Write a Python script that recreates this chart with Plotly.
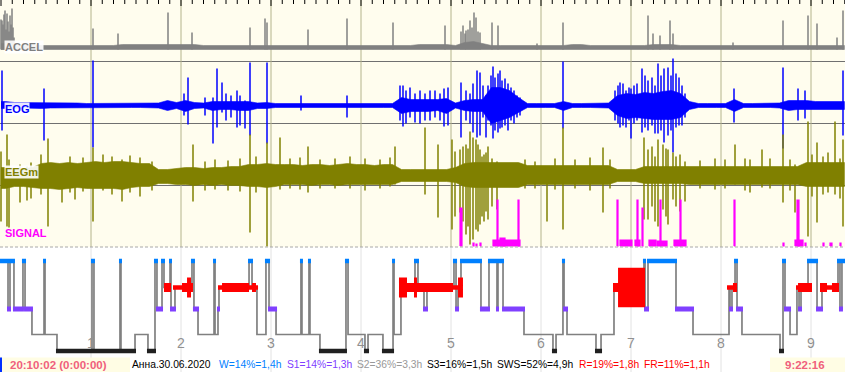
import plotly.graph_objects as go

# ------------------------------------------------------------------ data
DURATION_H = 9.371          # 9:22:16
BIN_S = 360                 # envelope bin width in seconds (0.1 h)

# EOG dense-core envelope (amplitude above / below baseline), 0.1 h bins
eog_up = [4,3,3,3,3,2.5,2.5,2.5,2.5,2, 2,2,2,2,2,2,2,2.5,5,3, 5,3,2.5,4,4,4,4,4,2.5,3,
          2,2,2,2.5,2,2,2,2,2.5,2, 2,2,2,2,8,6,6,6,6,7, 2.5,5,6,6,18,18,15,8,2,2,
          2,2,4,2,2,2,2,2.5,10,12, 11,13,12,14,15,12,4,2,2,2, 2,6,2,2,2,2,2.5,5,5,5,
          4,4,4,4]
eog_dn = [3,3,2.5,2.5,3,2.5,2.5,2.5,2.5,2, 2,2,2,2,2,2,2,2.5,5,3, 6,3,2.5,5,4,4,5,5,3,3,
          2,2,2,2,2,2,2,2,2.5,2, 2,2,2,2,8,6,6,6,5,8, 2.5,5,6,6,18,15,12,7,2,2,
          2,2,5,2,2,2,2,2.5,10,13, 12,13,14,14,14,12,4,2,2,2, 2,6,2,2,2,2,2.5,5,4,4,
          4,4,4,4]
# EEGm dense-core envelope
eeg_up = [9,8,8,9,13,14,13,14,13,14, 15,14,15,15,14,13,13,7,7,8, 9,9,8,9,9,10,10,12,12,13,
          12,12,12,11,12,12,11,12,13,12, 12,11,12,12,7,7,7,7,7,7, 9,13,14,14,14,14,14,14,11,11,
          11,11,11,11,11,11,11,11,7,7, 7,10,10,10,10,10,10,10,10,10, 10,10,10,10,10,10,10,10,10,14,
          14,14,14,14]
eeg_dn = [12,10,10,11,12,12,13,12,11,12, 12,12,12,13,11,10,10,7,7,8, 8,9,8,9,8,9,9,10,10,11,
          10,8,8,8,9,8,8,9,8,8, 8,8,8,8,5,5,5,5,5,5, 6,10,11,11,11,11,11,11,8,8,
          8,8,8,8,8,8,8,8,5,5, 5,7,7,7,7,7,8,8,8,8, 8,8,8,8,8,8,8,8,8,10,
          10,10,10,10]
# ACCEL band level above floor
accel_amp = [6,4,4,4,4,4,4,4,4,4, 4,4,4,5,5,5,5,5,5,5, 5,5,4,4,4,4,4,4,4,4,
             4,4,4,4,4,4,4,4,4,4, 4,4,4,4,4,4,5,5,5,5, 4,7,8,6,4,4,4,4,4,4,
             4,4,4,5,5,4,4,4,4,4, 4,4,5,5,5,4,4,4,4,4, 4,4,4,4,4,4,4,4,4,4,
             4,4,4,4]

# isolated spikes / strokes (time in seconds from start)
eog_spk_t  = [40,1720,3680,7320,7480,8160,8480,8640,8840,9000,9200,9440,9560,9760,9960,10640,12000,13840,
              15960,16080,16200,16360,16560,16760,16960,17160,17360,17560,17720,17880,
              18400,18600,18760,18880,19040,19160,19280,19400,19480,19600,19680,19760,19880,19960,
              20040,20160,20280,20400,20520,20640,20760,22480,
              24560,24680,24760,24880,25000,25120,25200,25320,25440,25640,25760,25880,26040,26160,
              26280,26400,26520,26680,26800,26880,27000,27120,27240,27360,
              29320,31280,31880,32160,33680]
eog_spk_up = [35,17,45,12,28,8,8,37,23,12,10,15,10,5,43,43,10,10,
              20,20,15,18,12,15,12,15,15,12,17,18,
              23,15,12,22,35,33,20,10,20,30,39,28,32,35,
              25,27,22,18,15,10,8,44,
              15,20,23,22,15,18,17,20,22,37,30,25,28,20,
              42,30,37,38,30,47,32,28,20,12,
              17,38,17,15,35]
eog_spk_dn = [25,35,42,10,19,10,38,22,7,15,12,22,20,23,30,38,5,12,
              15,21,18,12,17,18,15,15,12,15,21,20,
              32,15,18,27,32,30,12,32,15,20,33,25,27,23,
              22,20,25,15,18,12,10,23,
              15,18,22,20,22,15,33,18,15,27,22,25,20,28,
              28,25,37,30,25,47,22,20,20,12,
              17,43,15,13,30]

eeg_spk_t  = [0,240,320,760,1040,1200,1600,1880,2440,2760,2960,3280,3680,4080,4440,4840,5160,5560,6040,
              7680,8160,8560,9080,9560,9960,10200,10640,11160,11560,11960,12280,12760,13360,13960,
              14560,15160,15560,15760,16960,17480,18040,18160,18360,18480,18600,18680,18760,18880,
              19000,19080,19160,19240,19320,19400,19480,19640,19840,20960,21360,21840,22160,22480,
              22960,23560,24080,24360,25720,25880,26040,26160,26280,26480,26600,26680,26880,27000,
              27160,27360,27960,28560,28960,29360,29760,29960,30440,30760,31280,31560,31760,32280,
              32440,32640,32880,33080,33360,33560,33680]
eeg_spk_up = [25,42,17,12,10,14,22,38,12,20,12,19,29,22,20,17,21,19,15,
              32,15,17,16,18,42,20,34,39,18,19,30,17,18,20,
              18,17,19,30,49,32,37,25,27,30,32,28,45,39,
              37,32,27,20,22,24,30,18,15,17,15,7,18,49,
              17,19,29,17,39,27,30,20,37,32,28,27,24,20,
              22,15,16,18,17,32,18,17,27,18,42,17,12,55,
              22,34,20,24,55,18,37]
eeg_spk_dn = [45,50,51,26,24,22,18,50,26,16,23,15,45,14,18,25,16,20,14,
              25,14,13,14,15,56,16,70,13,12,13,16,12,12,12,
              14,12,10,8,18,41,53,40,36,45,58,50,68,63,
              53,55,48,40,45,35,43,30,33,12,12,45,13,53,
              12,14,36,12,43,43,30,45,50,33,40,48,23,30,
              35,25,12,13,12,8,14,16,11,12,26,14,36,60,
              20,46,18,16,18,22,50]

acc_spk_t   = [0,40,80,120,160,200,240,280,320,360,400,440,480,520,3680,4680,6680,7640,9960,10560,10640,
               12280,13840,15680,17760,18400,18480,18560,18600,18680,18760,18840,18920,19000,19080,19160,
               19640,19880,21440,22480,25880,26080,26360,26760,26880,29280,31280,32280,32640,33440,33680]
acc_spk_amp = [30,29,25,35,39,20,36,28,18,34,25,41,22,12,21,16,37,17,22,31,27,
               20,31,27,24,18,24,16,19,20,29,22,37,32,18,17,
               27,24,6,27,34,16,14,29,16,7,29,34,26,12,39]

# SIGNAL events (start s, end s, value)
sig_start = [18360,18880,19000,19160,19680,19840,19960,20680,24640,24760,25360,25440,25640,25920,
             26240,26360,26920,27160,29320,31280,31760,31840,32160,32880,33160,33560]
sig_end   = [18440,18920,19040,19200,20760,19880,20160,20720,24680,25240,25560,25480,25680,26200,
             26640,26400,27400,27200,29360,31320,32080,31920,32200,32920,33240,33600]
sig_val   = [38,3,2,3,6,46,8,46,46,6,6,46,38,6,5,46,6,46,46,3,6,46,3,3,3,3]

# hypnogram: stage onset (hours) and stage
stage_t = [0.0,0.078,0.1,0.144,0.244,0.267,0.344,0.478,0.489,0.622,1.011,1.033,1.322,1.333,1.489,
           1.633,1.711,1.733,1.789,1.811,1.878,1.889,1.933,2.122,2.144,2.189,2.367,2.378,2.411,2.422,
           2.756,2.789,2.844,2.944,2.978,3.056,3.333,3.344,3.422,3.433,3.544,3.833,3.856,4.044,4.078,
           4.244,4.356,4.367,4.444,4.6,4.633,4.7,4.733,5.033,5.056,5.078,5.111,5.333,5.422,5.511,
           5.522,5.578,5.811,6.133,6.167,6.244,6.256,6.289,6.611,6.667,6.811,7.144,7.156,7.189,7.5,
           7.689,8.089,8.1,8.122,8.156,8.178,8.233,8.656,8.689,8.711,8.767,8.844,8.867,8.889,8.967,
           9.067,9.122,9.3,9.322,9.344]
stage_seq = ['W','S1','W','S1','W','S1','S2','W','S2','S3','W','S3','W','S3','S2',
             'S3','W','S1','W','R','W','S1','R','W','S1','S2','W','S2','S1','R',
             'W','R','S2','W','S1','S2','W','S2','W','S2','S3','W','S2','S3','S2',
             'S3','W','S2','R','W','R','S1','R','W','S1','R','W','S1','W','S1',
             'W','S1','S2','S3','S2','W','S1','S2','S3','S2','R','W','S1','W','S1',
             'S2','R','S1','R','W','S1','S2','S3','W','S1','S2','R','S1','R','W',
             'S1','R','W','S1','W']

# REM density segments (hours)
rem_start = [1.811,1.911,2.011,2.067,2.111,2.411,2.456,2.756,2.789,2.833,4.422,4.511,4.589,4.622,
             5.022,5.078,6.8,6.856,8.067,8.133,8.833,8.856,9.1,9.178,9.233]
rem_end   = [1.889,2.011,2.067,2.111,2.133,2.456,2.756,2.789,2.833,2.856,4.511,4.589,4.622,5.022,
             5.078,5.133,6.856,7.156,8.133,8.178,8.856,9.011,9.178,9.233,9.311]
rem_dens  = [2,1,2,4.5,2,1,2,1,2,1,4.5,2,4.5,2,1,4.5,2,9,1,2,1,2,2,1,2]

hour_labels = ['1','2','3','4','5','6','7','8','9']
channel_names = ['ACCEL','EOG','EEGm','SIGNAL']
status_start = '20:10:02 (0:00:00)'
status_end = '9:22:16'
status_items = ['Анна.30.06.2020','W=14%=1,4h','S1=14%=1,3h','S2=36%=3,3h','S3=16%=1,5h',
                'SWS=52%=4,9h','R=19%=1,8h','FR=11%=1,1h']

# ------------------------------------------------------------------ layout constants
W, H = 845, 372
PXH = 90.0                     # pixels per hour
X0 = -1 / PXH
X1 = (W - 1) / PXH
BASE = {'ACCEL': 49.5, 'EOG': 105.5, 'EEGm': 176.5, 'SIGNAL': 246}
COL = {'ACCEL': '#808080', 'EOG': '#0000FF', 'EEGm': '#808000', 'SIGNAL': '#FF00FF'}
LEVEL = {'W': 261, 'R': 287.5, 'S1': 309, 'S2': 334.5, 'S3': 351}
SCOL = {'W': '#0080FF', 'S1': '#8040FF', 'S3': '#202020'}
SHALF = {'W': 2.2, 'S1': 2.6, 'S3': 2.2}
PANEL_BOTTOM = 247
FONT = 'Liberation Sans'

fig = go.Figure()


def hrs(sec):
    return sec / 3600.0


def band_poly(up, dn, base):
    n = len(up)
    xc = [(i + 0.5) * BIN_S / 3600.0 for i in range(n)]
    xs = [0.0] + xc + [DURATION_H]
    u = [up[0]] + list(up) + [up[-1]]
    d = [dn[0]] + list(dn) + [dn[-1]]
    X = xs + xs[::-1]
    Y = [base - a for a in u] + [base + a for a in d[::-1]]
    return X, Y


def spikes(ts, ups, dns, base):
    X, Y = [], []
    for t, u, d in zip(ts, ups, dns):
        X += [hrs(t), hrs(t), None]
        Y += [base - u, base + d, None]
    return X, Y


def add_channel(name, up, dn, st, su, sd):
    X, Y = band_poly(up, dn, BASE[name])
    fig.add_trace(go.Scatter(x=X, y=Y, fill='toself', fillcolor=COL[name], mode='lines',
                             line=dict(color=COL[name], width=0.6), hoverinfo='skip'))
    X, Y = spikes(st, su, sd, BASE[name])
    fig.add_trace(go.Scatter(x=X, y=Y, mode='lines', line=dict(color=COL[name], width=1.5),
                             hoverinfo='skip'))


add_channel('EOG', eog_up, eog_dn, eog_spk_t, eog_spk_up, eog_spk_dn)
add_channel('EEGm', eeg_up, eeg_dn, eeg_spk_t, eeg_spk_up, eeg_spk_dn)
add_channel('ACCEL', accel_amp, [0] * len(accel_amp), acc_spk_t, acc_spk_amp, [0] * len(acc_spk_amp))

# SIGNAL
X, Y = [], []
b = BASE['SIGNAL']
for s, e, v in zip(sig_start, sig_end, sig_val):
    X += [hrs(s), hrs(e), hrs(e), hrs(s), hrs(s), None]
    Y += [b, b, b - v, b - v, b, None]
fig.add_trace(go.Scatter(x=X, y=Y, fill='toself', fillcolor=COL['SIGNAL'], mode='lines',
                         line=dict(color=COL['SIGNAL'], width=1.2), hoverinfo='skip'))

# hypnogram step line
sx = list(stage_t) + [DURATION_H]
sy = [LEVEL[s] for s in stage_seq] + [LEVEL[stage_seq[-1]]]
fig.add_trace(go.Scatter(x=sx, y=sy, mode='lines', line=dict(color='#808080', width=1.7, shape='hv'),
                         hoverinfo='skip'))

# stage bars
pad = 1.0 / PXH
for st in ['W', 'S1', 'S3']:
    X, Y = [], []
    for i, s in enumerate(stage_seq):
        if s != st:
            continue
        t0 = stage_t[i] - pad
        t1 = (stage_t[i + 1] if i + 1 < len(stage_t) else DURATION_H) + pad
        lv, hh = LEVEL[st], SHALF[st]
        X += [t0, t1, t1, t0, t0, None]
        Y += [lv - hh, lv - hh, lv + hh, lv + hh, lv - hh, None]
    fig.add_trace(go.Scatter(x=X, y=Y, fill='toself', fillcolor=SCOL[st], mode='lines',
                             line=dict(color=SCOL[st], width=0), hoverinfo='skip'))

# REM blocks
X, Y = [], []
lv = LEVEL['R']
for s, e, d in zip(rem_start, rem_end, rem_dens):
    hh = d * 2.2
    X += [s, e, e, s, s, None]
    Y += [lv - hh, lv - hh, lv + hh, lv + hh, lv - hh, None]
fig.add_trace(go.Scatter(x=X, y=Y, fill='toself', fillcolor='#FF0000', mode='lines',
                         line=dict(color='#FF0000', width=0), hoverinfo='skip'))

# top ticks
X, Y = [], []
k = 0
while k / 8.0 <= X1:
    X += [k / 8.0, k / 8.0, None]
    Y += [0, 6 if k % 8 == 0 else 4, None]
    k += 1
fig.add_trace(go.Scatter(x=X, y=Y, mode='lines', line=dict(color='black', width=1), hoverinfo='skip'))

# ------------------------------------------------------------------ shapes
shapes = []
shapes.append(dict(type='rect', xref='paper', yref='y', x0=0, x1=1, y0=0, y1=PANEL_BOTTOM,
                   fillcolor='#FFFDEE', line=dict(width=0), layer='below'))
for hnum in range(1, 10):
    shapes.append(dict(type='line', xref='x', yref='y', x0=hnum, x1=hnum, y0=0, y1=PANEL_BOTTOM,
                       line=dict(color='#B4B48C', width=1), layer='below'))
    shapes.append(dict(type='line', xref='x', yref='y', x0=hnum, x1=hnum, y0=PANEL_BOTTOM, y1=H,
                       line=dict(color='#E2E2E2', width=1), layer='below'))
for yy in [61.5, 123.5, 185.5]:
    shapes.append(dict(type='line', xref='paper', yref='y', x0=0, x1=1, y0=yy, y1=yy,
                       line=dict(color='#707070', width=1), layer='below'))
shapes.append(dict(type='line', xref='paper', yref='y', x0=0, x1=1, y0=PANEL_BOTTOM, y1=PANEL_BOTTOM,
                   line=dict(color='#A8A8A8', width=1, dash='3px,2px')))
# status boxes
shapes.append(dict(type='rect', xref='paper', yref='y', x0=0, x1=130 / W, y0=357.5, y1=H,
                   fillcolor='#FFFDE4', line=dict(width=0)))
shapes.append(dict(type='rect', xref='paper', yref='y', x0=770 / W, x1=1, y0=357.5, y1=H,
                   fillcolor='#FFFDE4', line=dict(width=0)))
shapes.append(dict(type='rect', xref='paper', yref='y', x0=0, x1=2 / W, y0=357.5, y1=H,
                   fillcolor='#0030FF', line=dict(width=0)))

# ------------------------------------------------------------------ annotations
ann = []
label_y = {'ACCEL': 46.7, 'EOG': 108.7, 'EEGm': 172, 'SIGNAL': 233}
for name in channel_names:
    ann.append(dict(xref='paper', yref='y', x=4 / W, y=label_y[name], xanchor='left', yanchor='middle',
                    text='<b>%s</b>' % name, showarrow=False,
                    font=dict(family=FONT, size=11, color=COL[name]),
                    bgcolor=None if name == 'SIGNAL' else 'rgba(255,255,255,0.9)', borderpad=0))
for i, lab in enumerate(hour_labels):
    ann.append(dict(xref='x', yref='y', x=i + 1, y=343, xanchor='center', yanchor='middle', text=lab,
                    showarrow=False, font=dict(family=FONT, size=14, color='#909090')))
ann.append(dict(xref='paper', yref='y', x=8 / W, y=364.5, xanchor='left', yanchor='middle',
                text='<b>%s</b>' % status_start, showarrow=False,
                font=dict(family=FONT, size=11.5, color='#F0607C')))
ann.append(dict(xref='paper', yref='y', x=805 / W, y=364.5, xanchor='center', yanchor='middle',
                text='<b>%s</b>' % status_end, showarrow=False,
                font=dict(family=FONT, size=11.5, color='#F0607C')))
item_x = [130, 217, 285, 355, 425, 495, 577, 642]
item_col = ['#000000', '#0080FF', '#8040FF', '#999999', '#000000', '#000000', '#FF0000', '#FF0000']
for txt, xx, cc in zip(status_items, item_x, item_col):
    ann.append(dict(xref='paper', yref='y', x=xx / W, y=364.5, xanchor='left', yanchor='middle',
                    text=txt, showarrow=False, font=dict(family=FONT, size=10.3, color=cc)))

fig.update_layout(
    width=W, height=H, margin=dict(l=0, r=0, t=0, b=0),
    paper_bgcolor='white', plot_bgcolor='white', showlegend=False,
    xaxis=dict(range=[X0, X1], visible=False, fixedrange=True),
    yaxis=dict(range=[H, 0], visible=False, fixedrange=True),
    shapes=shapes, annotations=ann,
)

fig.write_html('out.html')
